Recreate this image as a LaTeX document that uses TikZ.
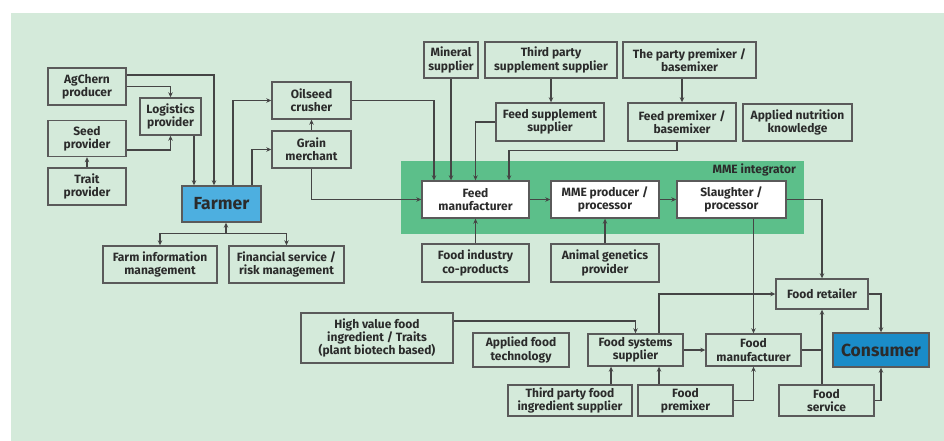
\documentclass[tikz,border=0pt]{standalone}
\usepackage{fontspec}
\setmainfont{Fira Sans}
\usetikzlibrary{arrows.meta,positioning}

\definecolor{bggreen}{HTML}{D4EADA}
\definecolor{mmegreen}{HTML}{5CBF8A}
\definecolor{farmblue}{HTML}{4DAFE0}
\definecolor{consblue}{HTML}{1A8CC8}
\definecolor{linegray}{HTML}{454545}
\definecolor{boxgray}{HTML}{5A5A5A}
\definecolor{txtgray}{HTML}{2B2B2B}

\begin{document}
\begin{tikzpicture}[
    x=1pt, y=-1pt,
    box/.style={draw=boxgray, line width=1.4pt, align=center, inner sep=0pt, text=txtgray, font=\fontsize{12}{13.2}\selectfont\bfseries},
    sz/.style 2 args={minimum width=#1pt, minimum height=#2pt},
    inbox/.style={box, fill=white},
    keybox/.style={box, font=\fontsize{17.5}{19}\selectfont\bfseries},
    arrow/.style={-{Stealth[length=5pt,width=4.5pt]}, line width=1.3pt, draw=linegray},
    link/.style={line width=1.3pt, draw=linegray}
]
\useasboundingbox (0,0) rectangle (944,441);
\fill[bggreen] (11,13) rectangle (944,441);

% MME integrator band
\fill[mmegreen] (401,161) rectangle (804,234);
\node[anchor=north east, inner sep=0pt, text=txtgray, font=\fontsize{12}{13.2}\selectfont\bfseries] (mmelab) at (796,164) {MME integrator};

% Farm side
\node[box, sz={78}{37}] (agchem) at (87,86.5) {AgChern\\producer};
\node[box, sz={61}{37}] (logist) at (170.5,116.5) {Logistics\\provider};
\node[box, sz={78}{36}] (seed) at (87,138.5) {Seed\\provider};
\node[box, sz={78}{37}] (trait) at (87,186.5) {Trait\\provider};
\node[keybox, sz={79}{36}, fill=farmblue] (farmer) at (221.5,204) {Farmer};
\node[box, sz={79}{37}] (oilseed) at (311.5,100.5) {Oilseed\\crusher};
\node[box, sz={79}{37}] (grain) at (311.5,149.5) {Grain\\merchant};
\node[box, sz={114}{37}] (farminfo) at (160,264.5) {Farm information\\management};
\node[box, sz={115}{37}] (finance) at (286.5,264.5) {Financial service /\\risk management};

\draw[arrow] ([yshift=11.5pt]agchem.east) -| ([xshift=-7.5pt]farmer.north);
\draw[arrow] (agchem.east) -| (logist.north);
\draw[arrow] ([yshift=-11.5pt]seed.east) -| (logist.south);
\draw[arrow] (trait) -- (seed);
\draw[arrow] ([xshift=23.5pt]logist.south) -- ([xshift=-27.5pt]farmer.north);
\draw[arrow] ([xshift=11.5pt]farmer.north) |- (oilseed.west);
\draw[arrow] ([xshift=30.5pt]farmer.north) |- (grain.west);
\draw[arrow] (grain) -- (oilseed);

\coordinate (fjoin) at ([xshift=4.5pt,yshift=-11pt]farmer.south);
\draw[arrow] (fjoin) -- ([xshift=4.5pt]farmer.south);
\draw[arrow] (fjoin) -| (farminfo.north);
\draw[arrow] (fjoin) -| (finance.north);

% Feed side
\node[box, sz={54}{36}] (mineral) at (451,60) {Mineral\\supplier};
\node[box, sz={132}{36}] (thirdsupp) at (551,60) {Third party\\supplement supplier};
\node[box, sz={133}{36}] (partypre) at (689.5,60) {The party premixer /\\basemixer};
\node[box, sz={108}{38}] (feedsupp) at (550,122) {Feed supplement\\supplier};
\node[box, sz={108}{38}] (feedpre) at (682,122) {Feed premixer /\\basemixer};
\node[box, sz={109}{37}] (nutrition) at (797.5,122.5) {Applied nutrition\\knowledge};

\node[inbox, sz={107}{37}] (feedmfr) at (475.5,199.5) {Feed\\manufacturer};
\node[inbox, sz={108}{37}] (mmeproc) at (605,199.5) {MME producer /\\processor};
\node[inbox, sz={109}{37}] (slaughter) at (731.5,199.5) {Slaughter /\\processor};
\node[box, sz={107}{38}] (foodind) at (475.5,263) {Food industry\\co-products};
\node[box, sz={108}{38}] (animgen) at (605,263) {Animal genetics\\provider};

\draw[arrow] (grain.south) |- (feedmfr.west);
\draw[arrow] (oilseed.east) -| ([xshift=-41.5pt]feedmfr.north);
\draw[arrow] (mineral.south) -- (mineral.south |- feedmfr.north);
\draw[arrow] (thirdsupp.south) -- (thirdsupp.south |- feedsupp.north);
\draw[arrow] (feedsupp.west) -| (feedmfr.north);
\draw[arrow] (feedpre.north |- partypre.south) -- (feedpre.north);
\draw[arrow] ([xshift=-5pt]feedpre.south) -- ++(0,-9pt) -| ([xshift=33.5pt]feedmfr.north);
\draw[arrow] (feedmfr) -- (mmeproc);
\draw[arrow] (mmeproc) -- (slaughter);
\draw[arrow] (foodind) -- (feedmfr);
\draw[arrow] (animgen) -- (mmeproc);

% Food side
\node[box, sz={152}{50}] (highval) at (377,338) {High value food\\ingredient / Traits\\(plant biotech based)};
\node[box, sz={96}{34}] (foodtech) at (521,350) {Applied food\\technology};
\node[box, sz={95}{32}] (foodsys) at (635.5,350) {Food systems\\supplier};
\node[box, sz={95}{32}] (foodmfr) at (753.5,350) {Food\\manufacturer};
\node[box, sz={92}{30}] (retailer) at (822,294) {Food retailer};
\node[keybox, sz={96}{34}, fill=consblue] (consumer) at (881,350) {Consumer};
\node[box, sz={124}{31}] (thirding) at (570,400.5) {Third party food\\ingredient supplier};
\node[box, sz={95}{31}] (foodpre) at (685.5,400.5) {Food\\premixer};
\node[box, sz={95}{31}] (foodserv) at (826.5,400.5) {Food\\service};

\draw[arrow] (slaughter.east) -| (retailer.north);
\draw[arrow] (foodmfr.north |- slaughter.south) -- (foodmfr.north);
\draw[arrow] ([yshift=17pt]highval.east) -| (foodsys.north);
\draw[arrow] ([xshift=23.5pt]foodsys.north) |- (retailer.west);
\draw[arrow] (foodsys) -- (foodmfr);
\draw[arrow] ([xshift=41pt]thirding.north) -- ([xshift=-24.5pt]foodsys.south);
\draw[arrow] ([xshift=-26.5pt]foodpre.north) -- ([xshift=23.5pt]foodsys.south);
\draw[arrow] (foodpre.east) -| (foodmfr.south);
\draw[link] (foodmfr.east) -- (foodmfr.east -| retailer.south);
\draw[arrow, {Stealth[length=5pt,width=4.5pt]}-] (retailer.south) -- (retailer.south |- foodserv.north);
\draw[arrow] (retailer.east) -| (consumer.north);
\draw[arrow] (foodserv.east) -| (consumer.south);
\end{tikzpicture}
\end{document}
